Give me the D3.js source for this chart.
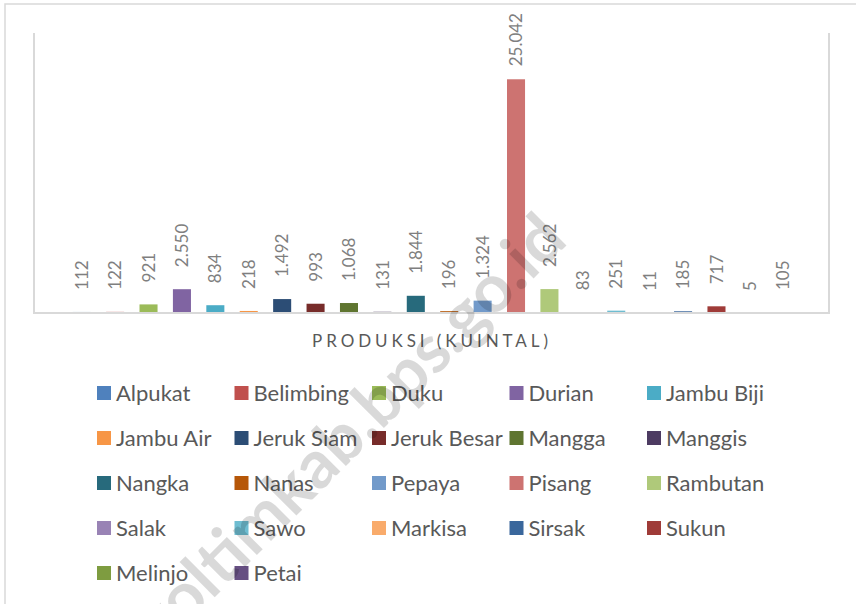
<!DOCTYPE html>
<html>
<head>
<meta charset="utf-8">
<script src="https://cdn.jsdelivr.net/npm/d3@7"></script>
<style>
  body { margin: 0; background: #fff; }
  svg { display: block; }
  text { font-family: Lato, "Open Sans", sans-serif; }
</style>
</head>
<body>
<div id="chart"></div>
<script>
// komoditas buah, produksi dalam kuintal
const fruits = ['Alpukat', 'Belimbing', 'Duku', 'Durian', 'Jambu Biji',
  'Jambu Air', 'Jeruk Siam', 'Jeruk Besar', 'Mangga', 'Manggis',
  'Nangka', 'Nanas', 'Pepaya', 'Pisang', 'Rambutan',
  'Salak', 'Sawo', 'Markisa', 'Sirsak', 'Sukun',
  'Melinjo', 'Petai'];
const produksi = [112, 122, 921, 2550, 834, 218, 1492, 993, 1068, 131,
  1844, 196, 1324, 25042, 2562, 83, 251, 11, 185, 717, 5, 105];
const warna = ['#4F81BD', '#C0504D', '#9BBB59', '#8064A2', '#4BACC6',
  '#F79646', '#2C4D75', '#772C2A', '#5F7530', '#4D3B62',
  '#276A7C', '#B65708', '#729ACA', '#CD7371', '#AFC97A',
  '#9983B5', '#6FBDD1', '#F9AB6B', '#3A679C', '#9F3B38',
  '#7E9C40', '#664F82'];
const yDomain = [0, 30000];
const axisTitle = 'PRODUKSI (KUINTAL)';
const watermark = ['koltimkab.bps.g', 'o.id'];

const width = 856;
const height = 604;

const data = fruits.map((f, i) => ({ name: f, value: produksi[i], color: warna[i] }));

const fmt = d3.formatLocale({ decimal: ',', thousands: '.', grouping: [3], currency: ['Rp', ''] }).format(',d');

const svg = d3.select('#chart')
  .append('svg')
  .attr('width', width)
  .attr('height', height);

// chart frame
svg.append('rect')
  .attr('x', 5).attr('y', 4)
  .attr('width', 900).attr('height', 700)
  .attr('fill', 'none')
  .attr('stroke', '#d9d9d9')
  .attr('stroke-width', 1.5);

const xScale = d3.scaleBand()
  .domain(fruits)
  .range([65, 800])
  .paddingInner(0.46)
  .paddingOuter(0.23);

const yScale = d3.scaleLinear()
  .domain(yDomain)
  .range([313, 33]);

// plot area border (left, bottom, right)
svg.append('path')
  .attr('d', 'M34,33 V313 H829 V33')
  .attr('fill', 'none')
  .attr('stroke', '#d9d9d9')
  .attr('stroke-width', 2);

svg.selectAll('rect.bar')
  .data(data)
  .enter()
  .append('rect')
  .attr('class', 'bar')
  .attr('x', d => xScale(d.name))
  .attr('y', d => yScale(d.value))
  .attr('width', xScale.bandwidth())
  .attr('height', d => Math.max(0, yScale(0) - 1 - yScale(d.value)))
  .attr('fill', d => d.color);

// value labels, rotated, kept inside the chart frame
const labels = svg.selectAll('text.val')
  .data(data)
  .enter()
  .append('text')
  .attr('class', 'val')
  .attr('text-anchor', 'start')
  .attr('dy', '0.36em')
  .attr('font-size', 17)
  .attr('fill', '#7f7f7f')
  .text(d => fmt(d.value));

labels.each(function(d) {
  const len = this.getComputedTextLength();
  let y = yScale(d.value) - 22;
  if (y - len < 13) y = 13 + len;
  const x = xScale(d.name) + xScale.bandwidth() / 2;
  d3.select(this).attr('transform', `translate(${x},${y}) rotate(-90)`);
});

svg.append('text')
  .attr('x', 430)
  .attr('y', 347)
  .attr('text-anchor', 'middle')
  .attr('font-size', 17)
  .attr('fill', '#595959')
  .attr('textLength', 236)
  .attr('lengthAdjust', 'spacing')
  .text(axisTitle);

// legend, five columns
const legend = svg.selectAll('g.leg')
  .data(data)
  .enter()
  .append('g')
  .attr('class', 'leg')
  .attr('transform', (d, i) => `translate(${97 + (i % 5) * 137.5},${393 + Math.floor(i / 5) * 45})`);

legend.append('rect')
  .attr('x', 0).attr('y', -7)
  .attr('width', 14).attr('height', 14)
  .attr('fill', d => d.color);

legend.append('text')
  .attr('x', 19)
  .attr('dy', '0.36em')
  .attr('font-size', 22)
  .attr('fill', '#595959')
  .text(d => d.name);

// site watermark
const wm = svg.append('g')
  .attr('transform', 'translate(492,320) rotate(-45)')
  .attr('font-size', 67)
  .attr('font-weight', 700)
  .attr('fill', '#000')
  .attr('fill-opacity', 0.15);
wm.append('text').attr('text-anchor', 'end').text(watermark[0]);
wm.append('text').attr('text-anchor', 'start').text(watermark[1]);
</script>
</body>
</html>
